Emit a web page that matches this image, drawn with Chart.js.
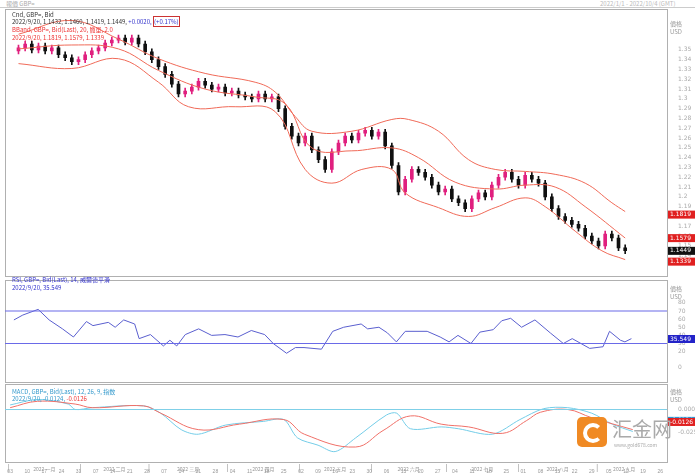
<!DOCTYPE html>
<html><head><meta charset="utf-8">
<script src="https://cdn.jsdelivr.net/npm/chart.js@4/dist/chart.umd.min.js"></script>
<style>
body{margin:0;width:695px;height:473px;background:#fff;font-family:"Noto Sans CJK SC","DejaVu Sans",sans-serif;overflow:hidden;position:relative}
canvas{position:absolute;left:0}
.t{position:absolute;font-size:6px;line-height:8px;white-space:nowrap}
.frame{position:absolute;border:1px solid #b0b0b0}
</style></head><body>
<div class="t" style="left:6px;top:0;color:#aaa">報價 GBP=</div>
<div class="t" style="left:600px;top:0;color:#bbb">2022/1/1 - 2022/10/4 (GMT)</div>
<div style="position:absolute;left:0;top:7px;width:695px;border-top:1px solid #ccc"></div>
<div class="frame" style="left:5px;top:9px;width:661px;height:266px"></div>
<div class="frame" style="left:5px;top:280px;width:661px;height:101px"></div>
<div class="frame" style="left:5px;top:384px;width:661px;height:77px"></div>
<canvas id="c1" width="695" height="266" style="top:9px"></canvas>
<canvas id="c2" width="695" height="101" style="top:280px"></canvas>
<canvas id="c3" width="695" height="89" style="top:384px"></canvas>
<div class="t" style="left:12px;top:11px;color:#333">Cnd, GBP=, Bid</div>
<div class="t" style="left:12px;top:18px;color:#333">2022/9/20, 1.1432, 1.1460, 1.1419, 1.1449, <span style="color:#33c">+0.0020, </span><span style="color:#33c;border:1px solid #c33">(+0.17%)</span></div>
<div class="t" style="left:12px;top:26px;color:#e33">BBand, GBP=, Bid(Last), 20, 簡單, 2.0</div>
<div class="t" style="left:12px;top:34px;color:#e33">2022/9/20, 1.1819, 1.1579, 1.1339</div>
<div class="t" style="left:670px;top:20px;color:#999">價格<br>USD</div>
<div class="t" style="left:12px;top:276px;color:#33c">RSI, GBP=, Bid(Last), 14, 威爾德平滑</div>
<div class="t" style="left:12px;top:284px;color:#33c">2022/9/20, 35.549</div>
<div class="t" style="left:670px;top:285px;color:#999">價格<br>USD</div>
<div class="t" style="left:12px;top:388px;color:#39c">MACD, GBP=, Bid(Last), 12, 26, 9, 指数</div>
<div class="t" style="left:12px;top:395px;color:#39c">2022/9/20, -0.0124, <span style="color:#e33">-0.0126</span></div>
<div class="t" style="left:670px;top:388px;color:#999">價格<br>USD</div>
<div style="position:absolute;left:577px;top:417px;width:30px;height:30px;background:#f08a24;border-radius:5px"><div style="position:absolute;left:6px;top:6px;width:12px;height:12px;border:4px solid #fff;border-right-color:transparent;border-radius:50%"></div></div>
<div class="t" style="left:612px;top:418px;font-size:20px;line-height:22px;color:#aaa">汇金网</div>
<div class="t" style="left:614px;top:441px;font-size:5px;color:#aaa">www.gold678.com</div>
<script>
// ---- data ----
const closes=[1.352,1.356,1.350,1.354,1.349,1.352,1.345,1.342,1.338,1.340,1.345,1.349,1.352,1.357,1.360,1.362,1.358,1.362,1.356,1.348,1.340,1.333,1.325,1.315,1.305,1.308,1.312,1.318,1.314,1.310,1.312,1.306,1.308,1.304,1.302,1.300,1.305,1.300,1.302,1.290,1.272,1.262,1.255,1.262,1.248,1.238,1.228,1.246,1.255,1.262,1.258,1.265,1.268,1.262,1.266,1.252,1.232,1.205,1.218,1.228,1.225,1.220,1.212,1.205,1.208,1.198,1.194,1.188,1.198,1.204,1.200,1.212,1.220,1.225,1.218,1.212,1.222,1.218,1.214,1.200,1.188,1.180,1.176,1.172,1.168,1.160,1.155,1.150,1.162,1.158,1.148,1.145];
const bandIdx=[0,16,30,42,56,71,77,83,88,100,112,117,126,135,143,152,161,170,178,182];
const bandUpper=[1.366,1.380,1.361,1.341,1.326,1.317,1.307,1.282,1.267,1.267,1.279,1.279,1.267,1.238,1.228,1.226,1.223,1.214,1.194,1.185];
const bandLowerIdx=[0,16,30,42,51,65,77,86,94,103,112,116,126,135,143,152,158,167,175,182];
const bandLower=[1.336,1.331,1.341,1.317,1.292,1.292,1.287,1.228,1.214,1.228,1.228,1.204,1.189,1.180,1.189,1.199,1.190,1.165,1.145,1.136];
const midIdx=[0,16,30,42,56,71,80,88,100,112,120,131,143,152,161,170,182];
const bandMid=[1.351,1.355,1.351,1.329,1.310,1.302,1.295,1.250,1.247,1.250,1.240,1.215,1.208,1.212,1.210,1.190,1.158];
const rsiIdx=[1.1,3.7,8.2,11.4,15.3,18.5,22.3,24.2,28.7,30.7,33.2,36.4,37.7,41,44.8,46.7,48.7,51.2,55.1,58.9,62.8,66.6,70.5,74.4,76.9,80.8,83.4,85.9,91,94.3,97.5,102.6,104.5,107.8,110.3,112.9,115.5,121.9,125.7,128.3,130.9,134.7,137.3,141.2,143.7,146.3,149.5,153.4,157.9,161.7,164.3,169.4,173.3,175.2,178.4,179.7,181.6];
const rsiVals=[59,65,72,59,48,38,57,52,56,50,59,54,36,41,27,34,27,41,48,40,41,38,46,41,30,18,25,25,23,45,50,54,48,50,43,32,45,45,38,32,40,30,44,47,58,61,50,59,43,30,36,24,26,45,34,32,36];
const macdIdx=[0,8,17,19,24,39,44,50,55,63,74,80,84,90,95,101,110,113,117,126,131,141,149,156,163,170,176,182];
const macdVals=[0.005,0.011,0.006,0.0,0.002,0.004,-0.004,-0.022,-0.027,-0.017,-0.013,-0.011,-0.031,-0.039,-0.046,-0.031,-0.006,-0.004,-0.021,-0.019,-0.021,-0.027,-0.011,0.001,0.002,-0.004,-0.016,-0.024];
const sigIdx=[0,8,19,24,39,44,55,67,80,86,101,109,117,126,134,144,151,155,163,170,182];
const sigVals=[0.002,0.009,0.006,0.002,0.004,-0.004,-0.022,-0.016,-0.011,-0.027,-0.041,-0.023,-0.007,-0.016,-0.019,-0.026,-0.012,-0.003,0.0,-0.009,-0.022];
const weekLabels=["03","10","17","24","31","07","14","21","28","07","14","21","28","04","11","18","25","02","09","16","23","30","06","13","20","27","04","11","18","25","01","08","15","22","29","05","12","19","26"];
const monthNames=["2022 一月","2022 二月","2022 三月","2022 四月","2022 五月","2022 六月","2022 七月","2022 八月","2022 九月"];
const monthStart=[0,21,41,64,85,106,128,149,172,193];
const priceBoxes=[[1.1819,"#e02020","#fff"],[1.1579,"#e02020","#fff"],[1.1449,"#111","#fff"],[1.1339,"#e02020","#fff"]];
// ---- helpers ----
const WICK=0.003;
const candleIdx=closes.map((c,i)=>i*2);
const opens=closes.map((c,i)=>i?closes[i-1]:1.349);
const pts=(xs,ys)=>xs.map((x,i)=>({x,y:ys[i]}));
const XMIN=-1.5,XMAX=192;
const tickFont={size:6,family:"DejaVu Sans"};
function xAxis(show){const a={type:'linear',min:XMIN,max:XMAX,display:show,grid:{display:false},border:{display:false},
  afterBuildTicks(s){s.ticks=weekLabels.map((l,i)=>({value:i*5}));},
  ticks:{autoSkip:false,maxRotation:0,font:{size:5},color:'#999',padding:0,callback:(v,i)=>weekLabels[i]}};
  if(show)a.afterFit=(s)=>{s.height=12;};return a;}
const boxPlugin=(boxes)=>({id:'boxes',afterDraw(ch){const c=ch.ctx,s=ch.scales.y;c.save();c.font='6px DejaVu Sans';
  boxes.forEach(([v,bg,fg,txt])=>{const y=s.getPixelForValue(v);c.fillStyle=bg;c.fillRect(ch.chartArea.right+1,y-4,27,8);c.fillStyle=fg;c.textBaseline='middle';c.fillText(txt||v.toFixed(4),ch.chartArea.right+3,y);});c.restore();}});
const common={responsive:false,animation:false,plugins:{legend:{display:false},tooltip:{enabled:false}},layout:{padding:{left:5,right:0,top:0,bottom:0}}};
function yAx(min,max,extra){return Object.assign({position:'right',min,max,grid:{display:false},border:{display:false},ticks:{font:tickFont,color:'#aaa',padding:3},afterFit(s){s.width=28;}},extra||{});}
// ---- main ----
const upC='#e0207f',dnC='#111';
new Chart(document.getElementById('c1'),{type:'bar',data:{datasets:[
 {type:'line',data:pts(bandIdx,bandUpper),borderColor:'#f06a58',borderWidth:1,pointRadius:0,tension:0.4},
 {type:'line',data:pts(midIdx,bandMid),borderColor:'#f06a58',borderWidth:1,pointRadius:0,tension:0.4},
 {type:'line',data:pts(bandLowerIdx,bandLower),borderColor:'#f06a58',borderWidth:1,pointRadius:0,tension:0.4},
 {data:closes.map((c,i)=>({x:candleIdx[i],y:[Math.min(c,opens[i])-WICK,Math.max(c,opens[i])+WICK]})),backgroundColor:closes.map((c,i)=>c>=opens[i]?upC:dnC),barThickness:1,grouped:false},
 {data:closes.map((c,i)=>({x:candleIdx[i],y:[opens[i],c===opens[i]?c+0.0005:c]})),backgroundColor:closes.map((c,i)=>c>=opens[i]?upC:dnC),barThickness:3,grouped:false}
]},options:Object.assign({},common,{scales:{x:xAxis(false),y:yAx(1.127,1.385,{afterBuildTicks(s){const t=[];for(let v=1.14;v<=1.355;v+=0.01)t.push({value:+v.toFixed(2)});s.ticks=t;},ticks:{font:tickFont,color:'#aaa',padding:3,callback:v=>String(+v.toFixed(2))}})}}),
plugins:[boxPlugin(priceBoxes)]});
// ---- RSI ----
new Chart(document.getElementById('c2'),{type:'line',data:{datasets:[
 {data:[{x:XMIN,y:70},{x:XMAX,y:70}],borderColor:'#6a6ae8',borderWidth:1.2,pointRadius:0},
 {data:[{x:XMIN,y:30},{x:XMAX,y:30}],borderColor:'#6a6ae8',borderWidth:1.2,pointRadius:0},
 {data:pts(rsiIdx,rsiVals),borderColor:'#5a5fcf',borderWidth:1,pointRadius:0}
]},options:Object.assign({},common,{scales:{x:xAxis(false),y:yAx(-8,100,{afterBuildTicks(s){s.ticks=[0,20,30,40,50,60,70,80].map(v=>({value:v}));}})}}),
plugins:[boxPlugin([[35.549,'#2323c8','#fff','35.549']])]});
// ---- MACD ----
new Chart(document.getElementById('c3'),{type:'line',data:{datasets:[
 {data:[{x:XMIN,y:0},{x:XMAX,y:0}],borderColor:'#7fd0e8',borderWidth:1,pointRadius:0},
 {data:pts(sigIdx,sigVals),borderColor:'#f07068',borderWidth:1,pointRadius:0,tension:0.4},
 {data:pts(macdIdx,macdVals),borderColor:'#74cde8',borderWidth:1,pointRadius:0,tension:0.3}
]},options:Object.assign({},common,{scales:{x:xAxis(true),y:yAx(-0.0563,0.0207,{afterBuildTicks(s){s.ticks=[0,-0.025].map(v=>({value:v}));},ticks:{font:tickFont,color:'#aaa',padding:3,callback:v=>v.toFixed(3)}})}}),
plugins:[boxPlugin([[-0.0124,'#2a9ad8','#fff','-0.0124'],[-0.0136,'#e02020','#fff','-0.0126']]),
 {id:'months',afterDraw(ch){const c=ch.ctx,s=ch.scales.x;c.save();c.font='5px "Noto Sans CJK SC"';c.fillStyle='#999';c.textAlign='center';
  monthNames.forEach((m,i)=>{const a=s.getPixelForValue(monthStart[i]-0.5),b=s.getPixelForValue(Math.min(monthStart[i+1],188)-0.5);c.fillText(m,(a+b)/2,87);c.fillRect(a,80,0.6,8);});c.restore();}}]});
</script></body></html>
